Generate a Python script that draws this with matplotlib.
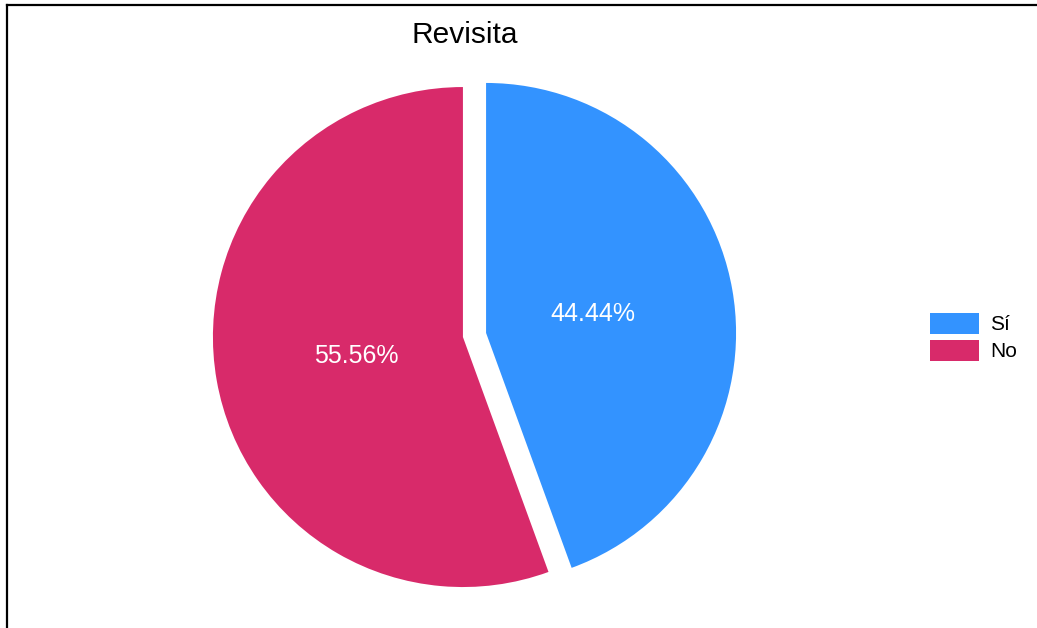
import matplotlib
matplotlib.use("Agg")
import matplotlib.pyplot as plt
from matplotlib.lines import Line2D

title = "Revisita"
categories = ["Sí", "No"]
values = [44.44, 55.56]
colors = ["#3393FF", "#D82A6A"]

plt.rcParams['font.family'] = ['Liberation Sans', 'DejaVu Sans']

fig = plt.figure(figsize=(10.37, 6.28), dpi=100)
ax = fig.add_axes([0, 0, 1, 1])

wedges, texts, autotexts = ax.pie(
    values, labels=None, colors=colors, startangle=90, counterclock=False,
    explode=[0.047, 0.047], autopct='%1.2f%%', pctdistance=0.435,
    textprops=dict(color='white', fontsize=18),
    wedgeprops=dict(linewidth=0))

ax.set_aspect('auto')
ax.set_xlim(-474.5 / 250, (1037 - 474.5) / 250)
ax.set_ylim(-293 / 250, (628 - 293) / 250)
ax.axis('off')

fig.text(465 / 1037, 1 - 35 / 628, title, ha='center', va='center', fontsize=21.5)

leg = ax.legend(wedges, categories, loc='center left',
                bbox_to_anchor=(930 / 1037, 1 - 337 / 628),
                frameon=False, fontsize=15, handlelength=2.35, handleheight=1.2,
                handletextpad=0.55, labelspacing=0.25, borderaxespad=0, borderpad=0)

# frame lines (top and left)
fig.add_artist(Line2D([7 / 1037, 1.0], [1 - 5 / 628, 1 - 5 / 628],
                      transform=fig.transFigure, color='black', linewidth=1.6))
fig.add_artist(Line2D([7 / 1037, 7 / 1037], [0, 1 - 5 / 628],
                      transform=fig.transFigure, color='black', linewidth=1.6))

fig.savefig("out.png", dpi=100, facecolor='white')
